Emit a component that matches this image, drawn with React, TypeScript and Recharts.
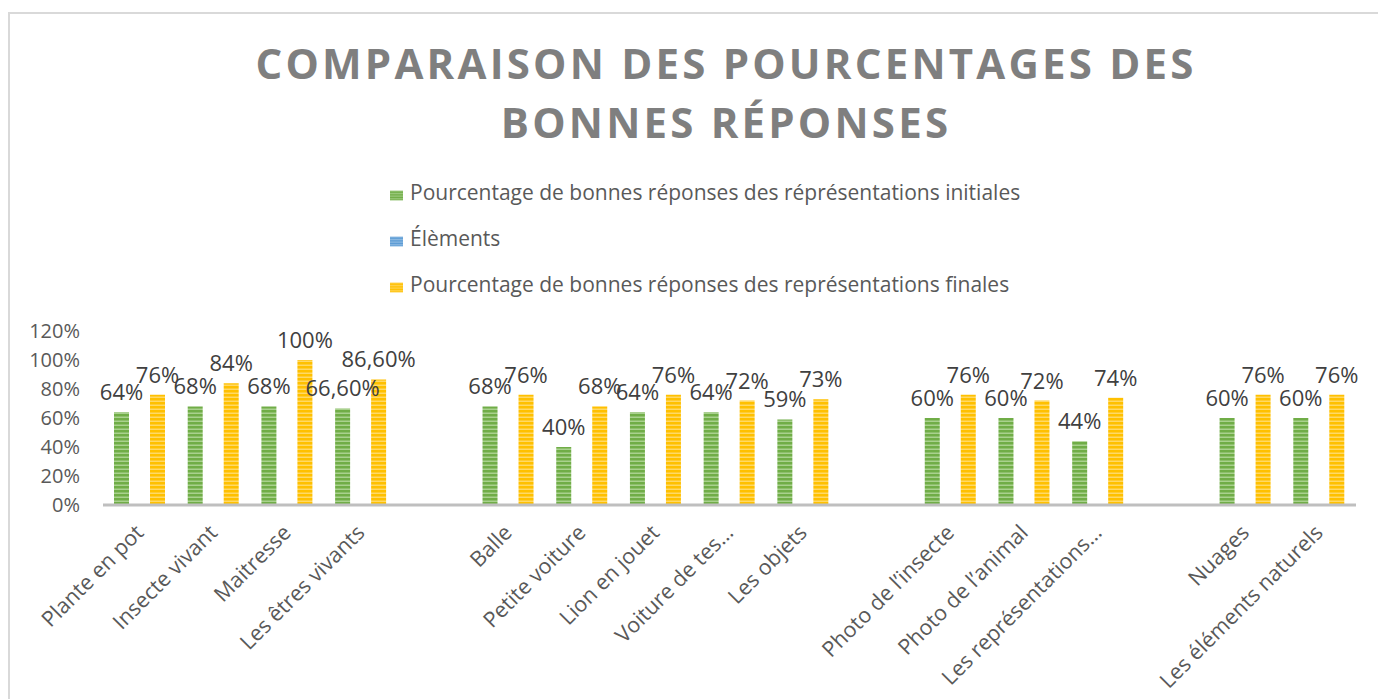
import React from "react";
import { BarChart, Bar, XAxis, YAxis, Legend, LabelList } from "recharts";

const categories = [
  "Plante en pot",
  "Insecte vivant",
  "Maitresse",
  "Les êtres vivants",
  "",
  "Balle",
  "Petite voiture",
  "Lion en jouet",
  "Voiture de tes…",
  "Les objets",
  "",
  "Photo de l’insecte",
  "Photo de l’animal",
  "Les représentations…",
  "",
  "Nuages",
  "Les éléments naturels",
];
const initiales = [64, 68, 68, 66.6, null, 68, 40, 64, 64, 59, null, 60, 60, 44, null, 60, 60];
const elements = categories.map(() => null);
const finales = [76, 84, 100, 86.6, null, 76, 68, 76, 72, 73, null, 76, 72, 74, null, 76, 76];
const yTicks = [0, 20, 40, 60, 80, 100, 120];
const seriesOrder = ["initiales", "elements", "finales"];

const data = categories.map((name, i) => ({
  name,
  initiales: initiales[i],
  elements: elements[i],
  finales: finales[i],
}));

const FONT = "'Open Sans', sans-serif";
const GREY = "#595959";

const fmt = (v: any) => {
  if (v === null || v === undefined) return "";
  return Number.isInteger(v) ? `${v}%` : `${Number(v).toFixed(2).replace(".", ",")}%`;
};

function XTick(props: any) {
  const { x, y, payload } = props;
  if (!payload.value) return null;
  return (
    <g transform={`translate(${x + 5},${y + 21})`}>
      <text
        x={0}
        y={0}
        textAnchor="end"
        transform="rotate(-45)"
        fontSize={21.5}
        fontFamily={FONT}
        fill={GREY}
      >
        {payload.value}
      </text>
    </g>
  );
}

function App() {
  return (
    <div
      style={{
        position: "absolute",
        left: 8,
        top: 12,
        width: 1370,
        height: 687,
        boxSizing: "border-box",
        borderLeft: "2px solid #d9d9d9",
        borderTop: "2px solid #d9d9d9",
        fontFamily: FONT,
      }}
    >
      <div
        style={{
          position: "absolute",
          left: 116,
          top: 19,
          width: 1200,
          textAlign: "center",
          fontSize: 42,
          fontWeight: 700,
          lineHeight: "59px",
          letterSpacing: 3.2,
          color: "#7f7f7f",
        }}
      >
        COMPARAISON DES POURCENTAGES DES
        <br />
        BONNES RÉPONSES
      </div>
      <BarChart
        width={1368}
        height={685}
        data={data}
        margin={{ top: 317, right: 22, bottom: 34, left: 23 }}
        barSize={15}
        barGap={3}
      >
        <defs>
          <pattern id="pGreen" width="4" height="4" patternUnits="userSpaceOnUse">
            <rect width="4" height="4" fill="#70AD47" />
            <rect y="2.5" width="4" height="1.5" fill="#A9D18E" />
          </pattern>
          <pattern id="pBlue" width="4" height="4" patternUnits="userSpaceOnUse">
            <rect width="4" height="4" fill="#5B9BD5" />
            <rect y="2.5" width="4" height="1.5" fill="#9DC3E6" />
          </pattern>
          <pattern id="pYellow" width="4" height="4" patternUnits="userSpaceOnUse">
            <rect width="4" height="4" fill="#FFC000" />
            <rect y="2.5" width="4" height="1.5" fill="#FFD966" />
          </pattern>
        </defs>
        <XAxis
          dataKey="name"
          height={160}
          interval={0}
          tickLine={false}
          axisLine={{ stroke: "#BFBFBF", strokeWidth: 3 }}
          tick={<XTick />}
        />
        <YAxis
          width={70}
          domain={[0, 120]}
          ticks={yTicks}
          interval={0}
          axisLine={false}
          tickLine={false}
          tickSize={0}
          tickMargin={23}
          tickFormatter={(v) => `${v}%`}
          tick={{ fontSize: 20, fontFamily: FONT, fill: GREY }}
        />
        <Legend
          layout="vertical"
          align="center"
          verticalAlign="middle"
          iconSize={13}
          itemSorter={(item: any) => seriesOrder.indexOf(item.dataKey)}
          wrapperStyle={{ left: 380, top: 155, width: "auto" }}
          formatter={(value: any) => (
            <span style={{ color: GREY, fontSize: 21, lineHeight: "46px", marginLeft: 3, fontFamily: FONT }}>
              {value}
            </span>
          )}
        />
        <Bar
          dataKey="initiales"
          name="Pourcentage de bonnes réponses des réprésentations initiales"
          fill="url(#pGreen)"
          isAnimationActive={false}
        >
          <LabelList
            dataKey="initiales"
            position="top"
            offset={12}
            formatter={fmt}
            style={{ fontSize: 22, fontFamily: FONT, fill: "#404040" }}
          />
        </Bar>
        <Bar dataKey="elements" name="Élèments" fill="url(#pBlue)" isAnimationActive={false} />
        <Bar
          dataKey="finales"
          name="Pourcentage de bonnes réponses des représentations finales"
          fill="url(#pYellow)"
          isAnimationActive={false}
        >
          <LabelList
            dataKey="finales"
            position="top"
            offset={12}
            formatter={fmt}
            style={{ fontSize: 22, fontFamily: FONT, fill: "#404040" }}
          />
        </Bar>
      </BarChart>
    </div>
  );
}

export default App;
